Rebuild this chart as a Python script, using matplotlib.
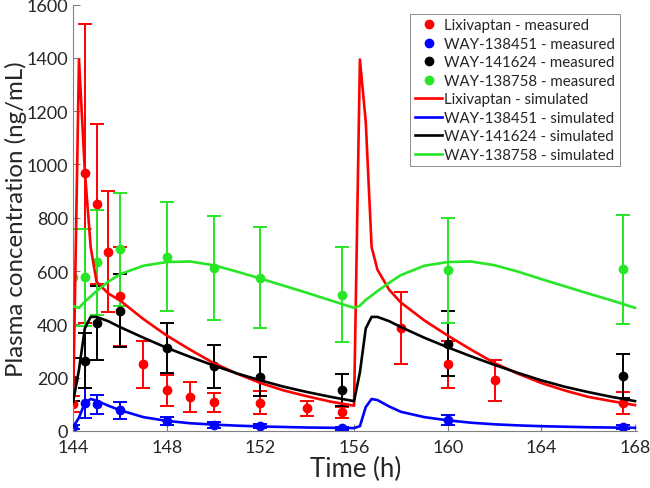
import matplotlib
matplotlib.use("Agg")
import matplotlib.pyplot as plt
from matplotlib.lines import Line2D
import numpy as np

plt.rcParams['font.family'] = ['Lato', 'DejaVu Sans']

# ---------------- measured data ----------------
t_meas = [144, 144.5, 145, 145.5, 146, 147, 148, 149, 150, 152, 154, 155.5, 158, 160, 162, 167.5]
lix_meas = [100, 967, 851, 673, 505, 250, 152, 128, 107, 106, 86, 70, 387, 250, 190, 104]
lix_err = [30, 560, 300, 226, 185, 88, 57, 55, 37, 43, 28, 20, 135, 88, 77, 42]

t_met = [144, 144.5, 145, 146, 148, 150, 152, 155.5, 160, 167.5]
w451_meas = [15, 105, 100, 77, 37, 23, 18, 10, 42, 15]
w451_err = [8, 55, 35, 33, 15, 10, 8, 6, 18, 8]
w624_meas = [192, 264, 405, 452, 311, 242, 204, 155, 327, 206]
w624_err = [80, 104, 140, 138, 95, 80, 73, 60, 122, 83]
w758_meas = [576, 576, 633, 681, 654, 610, 575, 511, 603, 606]
w758_err = [183, 183, 198, 212, 205, 195, 190, 178, 197, 205]

# ---------------- simulated curves ----------------
t_sim = [144, 144.25, 144.5, 144.75, 145, 145.5, 146, 147, 148, 149, 150, 151, 152, 153, 154, 155, 156,
         156.25, 156.5, 156.75, 157, 157.5, 158, 159, 160, 161, 162, 163, 164, 165, 166, 167, 168]
lix_sim = [100, 1394, 975, 690, 560, 516, 490, 420, 358, 305, 255, 215, 180, 152, 130, 110, 95,
           1394, 1160, 690, 605, 530, 482, 415, 358, 305, 255, 215, 180, 152, 128, 112, 97]
w451_sim = [15, 50, 105, 120, 114, 95, 78, 52, 38, 29, 24, 20, 17, 15, 13, 12, 11,
            18, 90, 120, 116, 92, 72, 52, 40, 31, 25, 21, 18, 16, 14, 13, 12]
w624_sim = [110, 230, 385, 428, 428, 412, 390, 350, 312, 278, 246, 216, 190, 166, 146, 128, 112,
            220, 385, 428, 428, 412, 390, 350, 314, 280, 248, 218, 190, 166, 146, 128, 112]
w758_sim = [468, 462, 485, 505, 525, 560, 588, 620, 634, 636, 622, 598, 572, 545, 518, 490, 462,
            470, 492, 508, 525, 556, 585, 620, 634, 636, 622, 598, 570, 543, 516, 490, 462]

RED = '#ff0000'
BLUE = '#0000ff'
BLACK = '#000000'
GREEN = '#26e626'

fig = plt.figure(figsize=(6.5, 4.89), dpi=100)
ax = fig.add_axes([0.1125, 0.1166, 0.868, 0.872])

eb_kw = dict(fmt='o', markersize=6, elinewidth=1.4, capsize=4.7, capthick=1.4, zorder=2)
ax.errorbar(t_meas, lix_meas, yerr=lix_err, color=RED, **eb_kw)
ax.errorbar(t_met, w451_meas, yerr=w451_err, color=BLUE, **eb_kw)
ax.errorbar(t_met, w624_meas, yerr=w624_err, color=BLACK, **eb_kw)
ax.errorbar(t_met, w758_meas, yerr=w758_err, color=GREEN, **eb_kw)

lw = 1.9
l1, = ax.plot(t_sim, lix_sim, color=RED, lw=lw, zorder=3)
l2, = ax.plot(t_sim, w451_sim, color=BLUE, lw=lw, zorder=3)
l3, = ax.plot(t_sim, w624_sim, color=BLACK, lw=lw, zorder=3)
l4, = ax.plot(t_sim, w758_sim, color=GREEN, lw=lw, zorder=3)

ax.set_xlim(144, 168.1)
ax.set_ylim(0, 1600)
ax.set_xticks([144, 148, 152, 156, 160, 164, 168])
ax.set_yticks(np.arange(0, 1601, 200))
for s in ['top', 'right']:
    ax.spines[s].set_visible(False)
for s in ['left', 'bottom']:
    ax.spines[s].set_color('#808080')
    ax.spines[s].set_linewidth(0.8)
ax.tick_params(direction='in', length=5, color='#808080', labelcolor='#262626', labelsize=13)
ax.tick_params(axis='x', pad=6)
ax.set_xlabel('Time (h)', fontsize=18.5, color='#262626')
ax.xaxis.set_label_coords(0.5, -0.058)
ax.set_ylabel('Plasma concentration (ng/mL)', fontsize=17.3, color='#262626', labelpad=0)

mk = lambda c: Line2D([], [], ls='none', marker='o', color=c, markersize=6)
handles = [mk(RED), mk(BLUE), mk(BLACK), mk(GREEN), l1, l2, l3, l4]
labels = ['Lixivaptan - measured', 'WAY-138451 - measured', 'WAY-141624 - measured',
          'WAY-138758 - measured', 'Lixivaptan - simulated', 'WAY-138451 - simulated',
          'WAY-141624 - simulated', 'WAY-138758 - simulated']
leg = ax.legend(handles, labels, loc='upper right', bbox_to_anchor=(0.9685, 0.978),
                fontsize=10.8, frameon=True, fancybox=False, framealpha=1,
                edgecolor='#8c8c8c', handlelength=1.85, handletextpad=0.12,
                labelspacing=0.3, borderpad=0.3, borderaxespad=0)
leg.get_frame().set_linewidth(0.7)
for t in leg.get_texts():
    t.set_color('#262626')

fig.savefig('out.png', dpi=100)
